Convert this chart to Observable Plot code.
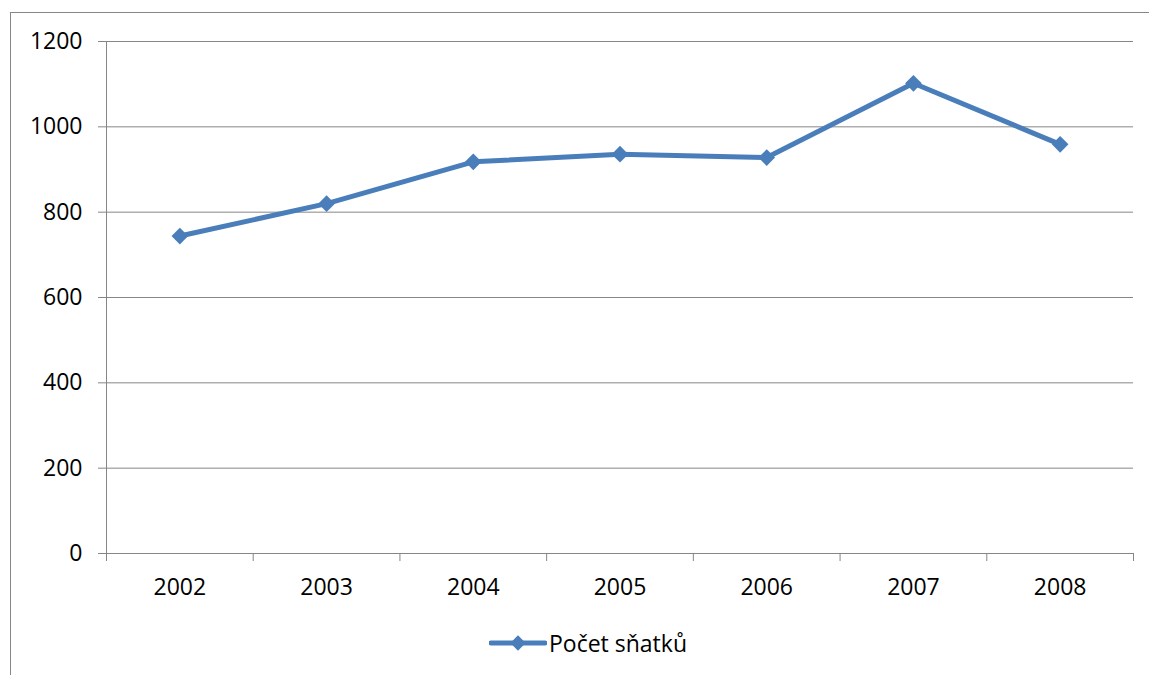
<!DOCTYPE html>
<html>
<head>
<meta charset="utf-8">
<script src="https://cdn.jsdelivr.net/npm/d3@7"></script>
<script src="https://cdn.jsdelivr.net/npm/@observablehq/plot@0.6"></script>
<style>
  html, body { margin: 0; padding: 0; background: #fff; overflow: hidden; width: 1149px; height: 675px; }
  #frame { position: absolute; left: 10px; top: 12px; width: 1300px; height: 800px; border: 1px solid #868686; box-sizing: border-box; }
  #chart { position: absolute; left: 0; top: 0; }
  #legend { position: absolute; left: 489px; top: 627px; display: flex; align-items: center; font-family: "Open Sans", sans-serif; font-size: 23px; color: #000; }
  #legend svg { display: block; margin-right: 2px; }
</style>
</head>
<body>
<div id="frame"></div>
<div id="chart"></div>
<div id="legend"></div>
<script>
const years = [2002, 2003, 2004, 2005, 2006, 2007, 2008];
const counts = [744, 820, 918, 936, 928, 1102, 959];
const yTicks = [0, 200, 400, 600, 800, 1000, 1200];
const xBounds = [2001.5, 2002.5, 2003.5, 2004.5, 2005.5, 2006.5, 2007.5, 2008.5];
const seriesName = "Počet sňatků";
const lineColor = "#4a7ebb";
const gridColor = "#868686";

const data = years.map((year, i) => ({year, count: counts[i]}));

const chart = Plot.plot({
  width: 1149,
  height: 620,
  marginLeft: 106,
  marginRight: 16,
  marginTop: 41,
  marginBottom: 67,
  x: {type: "linear", domain: [xBounds[0], xBounds[xBounds.length - 1]]},
  y: {domain: [yTicks[0], yTicks[yTicks.length - 1]]},
  style: {fontFamily: "'Open Sans', sans-serif", fontSize: "23px", color: "#000", background: "transparent"},
  marks: [
    Plot.ruleY(yTicks, {stroke: gridColor, strokeOpacity: 1, strokeWidth: 1}),
    Plot.ruleX([xBounds[0]], {stroke: gridColor, strokeOpacity: 1}),
    Plot.axisY({ticks: yTicks, tickSize: 8, tickPadding: 16, stroke: gridColor, strokeOpacity: 1, tickFormat: d => String(d), label: null, fontSize: 23}),
    Plot.axisX({ticks: xBounds, tickSize: 8, tickFormat: () => "", stroke: gridColor, strokeOpacity: 1, label: null}),
    Plot.axisX({ticks: years, tickSize: 0, tickPadding: 25, tickFormat: d => String(d), label: null, fontSize: 23}),
    Plot.line(data, {x: "year", y: "count", stroke: lineColor, strokeWidth: 5}),
    Plot.dot(data, {x: "year", y: "count", symbol: "diamond2", r: 7.5, fill: lineColor, stroke: "none"})
  ]
});
document.getElementById("chart").appendChild(chart);

// Legend
const legend = d3.select("#legend");
const ls = legend.append("svg").attr("width", 58).attr("height", 30);
ls.append("line").attr("x1", 2).attr("x2", 56).attr("y1", 15).attr("y2", 15)
  .attr("stroke", lineColor).attr("stroke-width", 5).attr("stroke-linecap", "round");
ls.append("path").attr("d", d3.symbol(d3.symbolDiamond2, 150)()).attr("transform", "translate(29,15)").attr("fill", lineColor);
legend.append("span").text(seriesName);
</script>
</body>
</html>
